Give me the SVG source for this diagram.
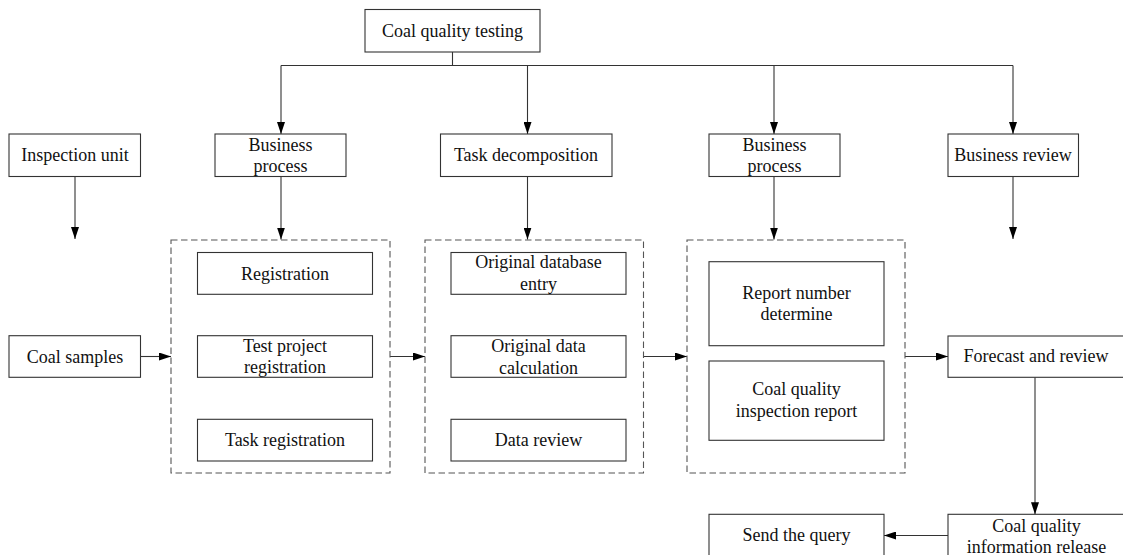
<svg xmlns="http://www.w3.org/2000/svg" width="1123" height="555" viewBox="0 0 1123 555">
<style>
.box{fill:#fff;stroke:#333;stroke-width:1.1}
.grp{fill:none;stroke:#555;stroke-width:1.1;stroke-dasharray:6.5,3.5}
.t{font-family:"Liberation Serif","Times New Roman",serif;font-size:18px;fill:#111;text-anchor:middle}
.c{fill:none;stroke:#333;stroke-width:1.1}
</style>
<defs>
<marker id="ah" viewBox="0 0 12 8" refX="12" refY="4" markerWidth="12" markerHeight="8" markerUnits="userSpaceOnUse" orient="auto">
<path d="M0,0 L12,4 L0,8 Z" fill="#000"/>
</marker>
</defs>
<rect width="1123" height="555" fill="#fff"/>
<g id="connectors">
<path class="c" d="M452.5,52 V65.5 M281,65.5 H1013"/>
<path class="c" d="M281,65.5 V134" marker-end="url(#ah)"/>
<path class="c" d="M527.5,65.5 V134" marker-end="url(#ah)"/>
<path class="c" d="M774,65.5 V134" marker-end="url(#ah)"/>
<path class="c" d="M1013,65.5 V134" marker-end="url(#ah)"/>
<path class="c" d="M75,176.5 V239" marker-end="url(#ah)"/>
<path class="c" d="M281,176.5 V239.5" marker-end="url(#ah)"/>
<path class="c" d="M527.5,176.5 V239.5" marker-end="url(#ah)"/>
<path class="c" d="M774,176.5 V239.5" marker-end="url(#ah)"/>
<path class="c" d="M1013,176.5 V239" marker-end="url(#ah)"/>
<path class="c" d="M140.5,356.5 H171" marker-end="url(#ah)"/>
<path class="c" d="M390,356.5 H425" marker-end="url(#ah)"/>
<path class="c" d="M643.5,356.5 H687" marker-end="url(#ah)"/>
<path class="c" d="M905,356.5 H948" marker-end="url(#ah)"/>
<path class="c" d="M1035,377.3 V514.3" marker-end="url(#ah)"/>
<path class="c" d="M948,535.5 H884" marker-end="url(#ah)"/>
</g>
<g id="group1"><rect class="grp" x="171" y="240" width="219" height="233"/></g>
<g id="group2"><rect class="grp" x="425" y="240" width="218.5" height="233"/></g>
<g id="group3"><rect class="grp" x="687" y="240" width="218" height="233"/></g>
<g id="coal-quality-testing"><rect class="box" x="365" y="9.5" width="175" height="42.5"/><text class="t" x="452.5" y="37">Coal quality testing</text></g>
<g id="inspection-unit"><rect class="box" x="9" y="134" width="131.5" height="42.5"/><text class="t" x="75" y="161">Inspection unit</text></g>
<g id="business-process-1"><rect class="box" x="215" y="134" width="131" height="42.5"/><text class="t" x="280.5" y="151">Business</text><text class="t" x="280.5" y="172">process</text></g>
<g id="task-decomposition"><rect class="box" x="440.5" y="134" width="171.5" height="42.5"/><text class="t" x="526" y="161">Task decomposition</text></g>
<g id="business-process-2"><rect class="box" x="709" y="134" width="131" height="42.5"/><text class="t" x="774.5" y="151">Business</text><text class="t" x="774.5" y="172">process</text></g>
<g id="business-review"><rect class="box" x="948" y="134" width="130.5" height="42.5"/><text class="t" x="1013" y="161">Business review</text></g>
<g id="registration"><rect class="box" x="197.5" y="252.5" width="175" height="41.8"/><text class="t" x="285" y="279.5">Registration</text></g>
<g id="test-project-registration"><rect class="box" x="197.5" y="335.7" width="175" height="41.6"/><text class="t" x="285" y="351.5">Test project</text><text class="t" x="285" y="373">registration</text></g>
<g id="task-registration"><rect class="box" x="197.5" y="419.3" width="175" height="41.7"/><text class="t" x="285" y="446">Task registration</text></g>
<g id="coal-samples"><rect class="box" x="9" y="335.7" width="131.5" height="41.6"/><text class="t" x="75" y="362.7">Coal samples</text></g>
<g id="original-database-entry"><rect class="box" x="451" y="252.5" width="175" height="41.8"/><text class="t" x="538.5" y="268.3">Original database</text><text class="t" x="538.5" y="290.3">entry</text></g>
<g id="original-data-calculation"><rect class="box" x="451" y="335.7" width="175" height="41.6"/><text class="t" x="538.5" y="351.5">Original data</text><text class="t" x="538.5" y="373.5">calculation</text></g>
<g id="data-review"><rect class="box" x="451" y="419.3" width="175" height="41.7"/><text class="t" x="538.5" y="446">Data review</text></g>
<g id="report-number-determine"><rect class="box" x="709" y="261.7" width="175" height="84"/><text class="t" x="796.5" y="298.5">Report number</text><text class="t" x="796.5" y="319.5">determine</text></g>
<g id="coal-quality-inspection-report"><rect class="box" x="709" y="361" width="175" height="79.3"/><text class="t" x="796.5" y="395.3">Coal quality</text><text class="t" x="796.5" y="417">inspection report</text></g>
<g id="forecast-and-review"><rect class="box" x="948" y="336" width="176" height="41.3"/><text class="t" x="1036" y="362">Forecast and review</text></g>
<g id="coal-quality-information-release"><rect class="box" x="948" y="514.3" width="176" height="45"/><text class="t" x="1036.5" y="531.5">Coal quality</text><text class="t" x="1036.5" y="552.5">information release</text></g>
<g id="send-the-query"><rect class="box" x="709" y="514.3" width="175" height="45"/><text class="t" x="796.5" y="541">Send the query</text></g>
</svg>
